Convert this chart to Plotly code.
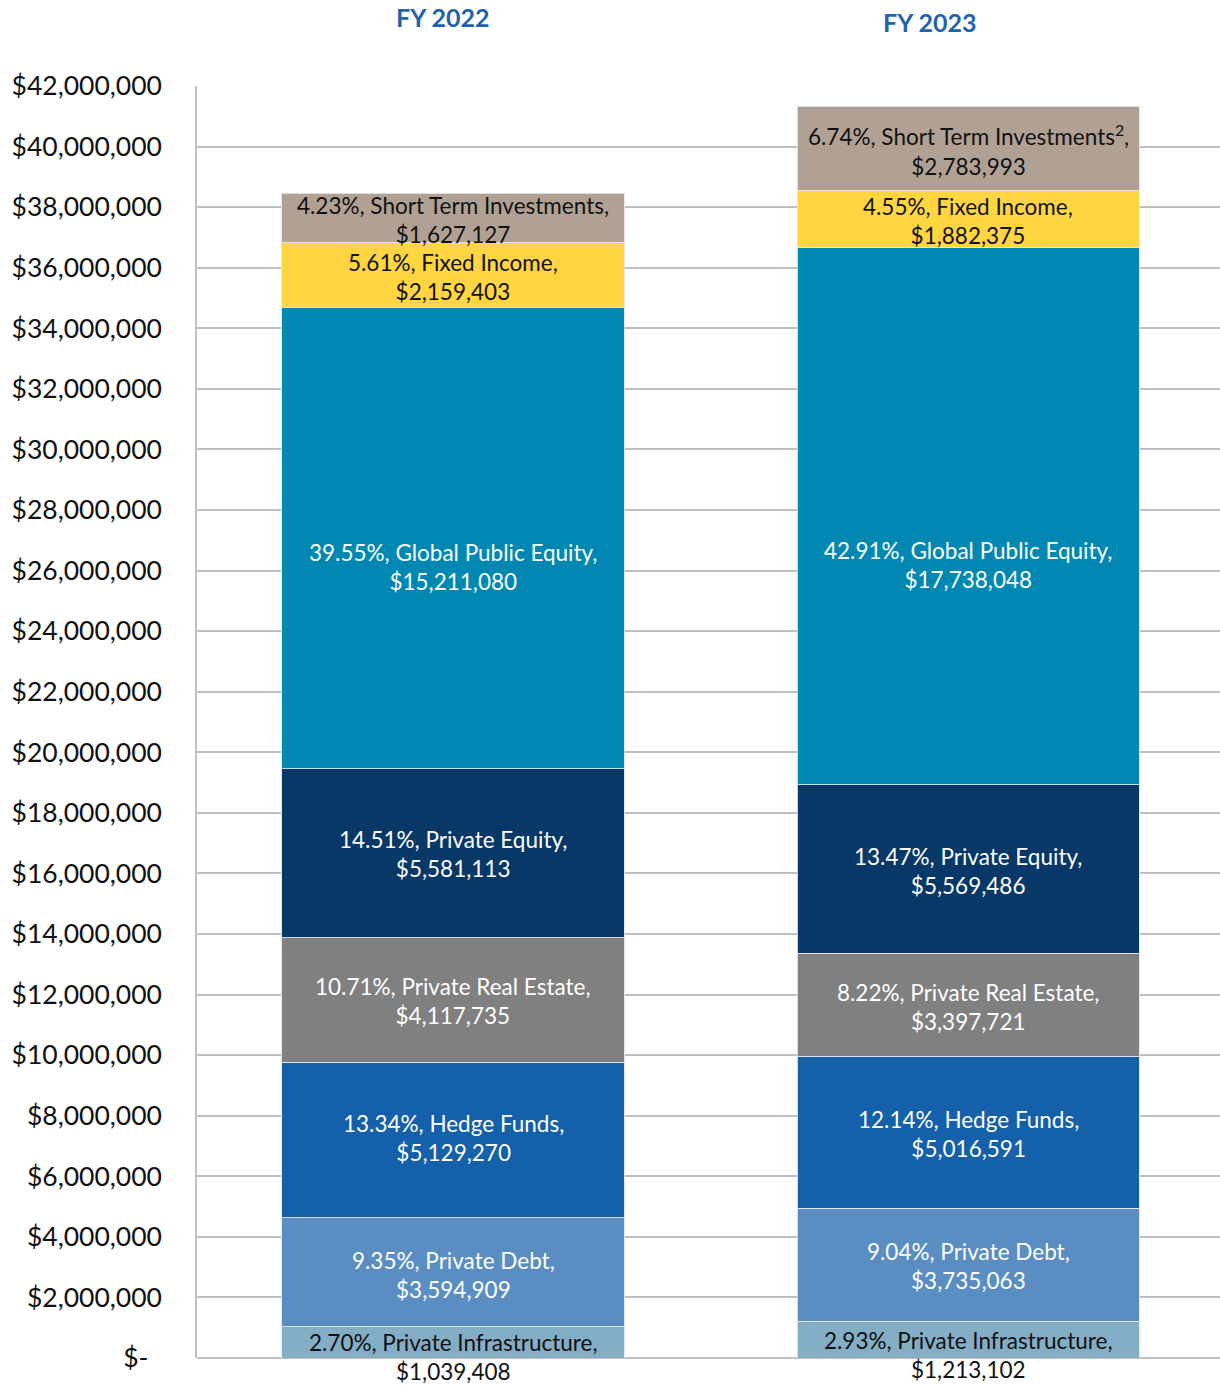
import plotly.graph_objects as go

categories = ["FY 2022", "FY 2023"]
asset_classes = [
    "Private Infrastructure",
    "Private Debt",
    "Hedge Funds",
    "Private Real Estate",
    "Private Equity",
    "Global Public Equity",
    "Fixed Income",
    "Short Term Investments",
]
label_names = {
    "FY 2022": ["Private Infrastructure", "Private Debt", "Hedge Funds", "Private Real Estate",
                "Private Equity", "Global Public Equity", "Fixed Income", "Short Term Investments"],
    "FY 2023": ["Private Infrastructure", "Private Debt", "Hedge Funds", "Private Real Estate",
                "Private Equity", "Global Public Equity", "Fixed Income", "Short Term Investments<sup>2</sup>"],
}
values_2022 = [1039408, 3594909, 5129270, 4117735, 5581113, 15211080, 2159403, 1627127]
values_2023 = [1213102, 3735063, 5016591, 3397721, 5569486, 17738048, 1882375, 2783993]
pct_2022 = ["2.70%", "9.35%", "13.34%", "10.71%", "14.51%", "39.55%", "5.61%", "4.23%"]
pct_2023 = ["2.93%", "9.04%", "12.14%", "8.22%", "13.47%", "42.91%", "4.55%", "6.74%"]

tick_vals = list(range(0, 42000001, 2000000))
tick_text = ["$-\u00a0\u00a0"] + ["${:,}".format(v) for v in tick_vals[1:]]

# styles
colors = ["#84ADC6", "#5A8EC3", "#1560AA", "#808080", "#073867", "#0088B2", "#FFD541", "#B1A194"]
text_colors = ["#111111", "white", "white", "white", "white", "white", "#111111", "#111111"]
label_yshift = {
    "FY 2022": [-15, -3, 2, -1, -1, -29, -2, -2],
    "FY 2023": [-15, -1, -2, -2, -2, -49, -2, -2],
}
FONT = "Lato"

fig = go.Figure()
series = {"FY 2022": values_2022, "FY 2023": values_2023}
pcts = {"FY 2022": pct_2022, "FY 2023": pct_2023}

for i, name in enumerate(asset_classes):
    fig.add_trace(go.Bar(
        x=categories,
        y=[values_2022[i], values_2023[i]],
        name=name,
        marker=dict(color=colors[i], line=dict(color="rgba(230,230,230,0.9)", width=1)),
        width=0.664,
        hoverinfo="skip",
        showlegend=False,
    ))

annotations = []
for cat in categories:
    vals = series[cat]
    base = 0
    for i, v in enumerate(vals):
        mid = base + v / 2
        base += v
        text = "{}, {},<br>${:,}".format(pcts[cat][i], label_names[cat][i], v)
        annotations.append(dict(
            x=cat, y=mid, xref="x", yref="y", text=text, showarrow=False,
            font=dict(family=FONT, size=22.5, color=text_colors[i]),
            yshift=label_yshift[cat][i], align="center",
            xanchor="center", yanchor="middle",
        ))

annotations.append(dict(x=0.2395, y=1.0545, xref="paper", yref="paper", text="<b>FY 2022</b>",
                        xanchor="center", yanchor="middle",
                        showarrow=False, font=dict(family=FONT, size=25, color="#1F63AF")))
annotations.append(dict(x=0.7165, y=1.0505, xref="paper", yref="paper", text="<b>FY 2023</b>",
                        xanchor="center", yanchor="middle",
                        showarrow=False, font=dict(family=FONT, size=25, color="#1F63AF")))

fig.update_layout(
    barmode="stack",
    width=1220, height=1385,
    margin=dict(l=197, r=0, t=86, b=27),
    paper_bgcolor="white", plot_bgcolor="white",
    annotations=annotations,
    font=dict(family=FONT, color="#111111"),
    xaxis=dict(range=[-0.497, 1.489], showticklabels=False, showgrid=False,
               showline=False, zeroline=False, ticks=""),
    yaxis=dict(range=[0, 42000000], tickvals=tick_vals, ticktext=tick_text,
               showgrid=True, gridcolor="#BFBFBF", gridwidth=1.5,
               showline=True, linecolor="#BFBFBF", linewidth=1.5,
               zeroline=True, zerolinecolor="#BFBFBF", zerolinewidth=1.5,
               tickfont=dict(family=FONT, size=26.5, color="#111111"),
               ticklabelstandoff=28, ticks=""),
)

fig.write_html("out.html", config={"displayModeBar": False},
               post_script="document.body.style.margin='0';document.body.style.overflow='hidden';")
